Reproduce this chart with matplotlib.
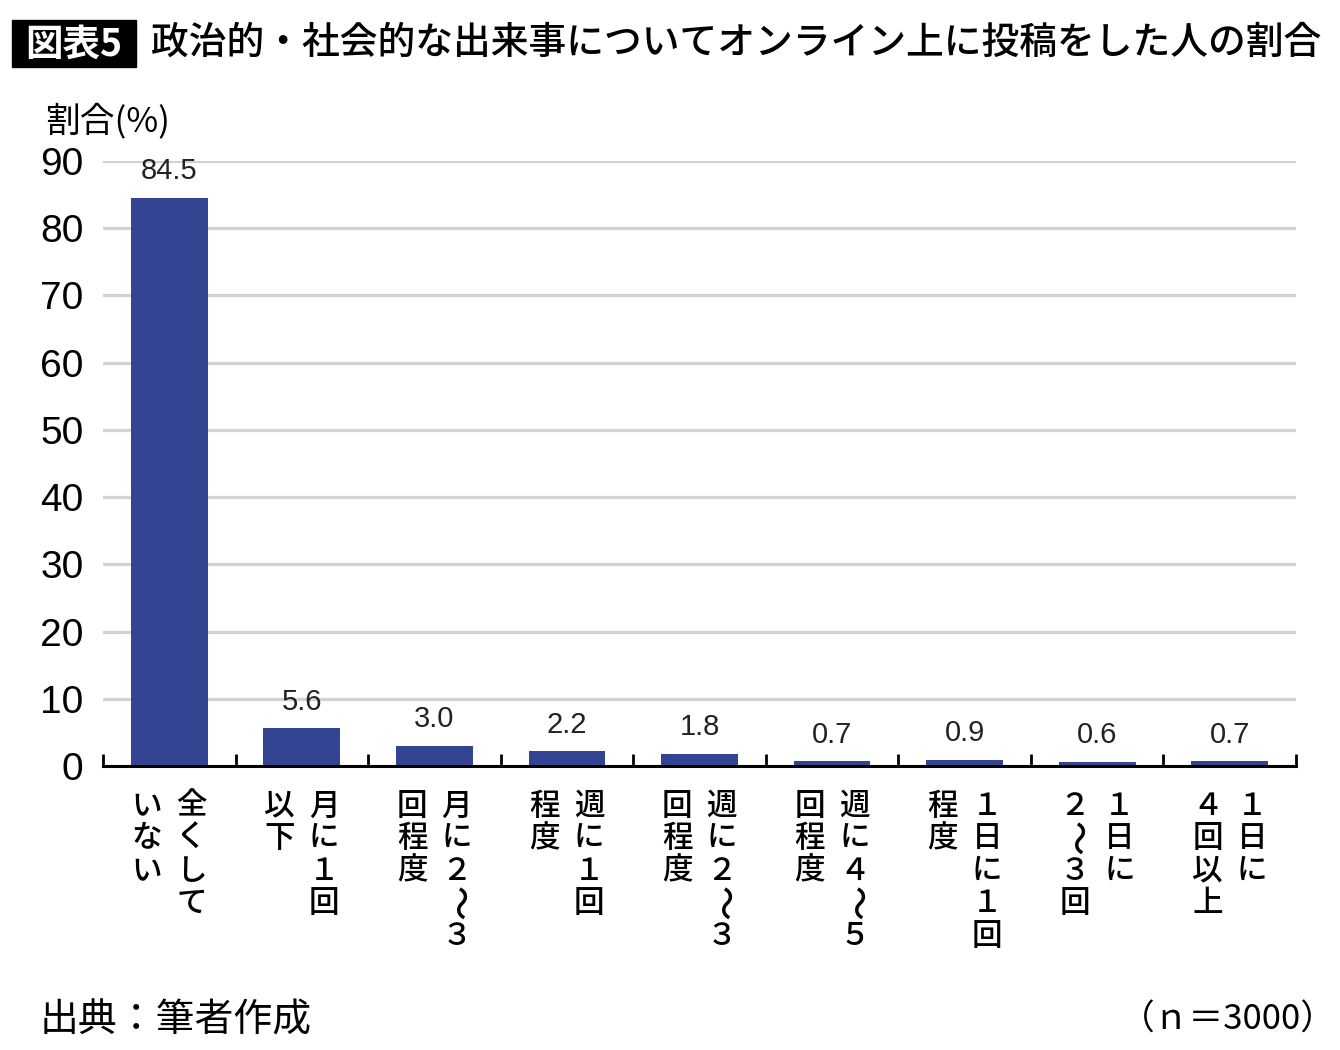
import matplotlib
matplotlib.use('Agg')
import matplotlib.pyplot as plt
from matplotlib.patches import Rectangle

# data
values = [84.5, 5.6, 3.0, 2.2, 1.8, 0.7, 0.9, 0.6, 0.7]
# vertical labels, first column is the right one (read right to left)
label_columns = [
    ['全くして', 'いない'],
    ['月に１回', '以下'],
    ['月に２〜３', '回程度'],
    ['週に１回', '程度'],
    ['週に２〜３', '回程度'],
    ['週に４〜５', '回程度'],
    ['１日に１回', '程度'],
    ['１日に', '２〜３回'],
    ['１日に', '４回以上'],
]
y_ticks = [0, 10, 20, 30, 40, 50, 60, 70, 80, 90]
title_tag = '図表5'
title = '政治的・社会的な出来事についてオンライン上に投稿をした人の割合'
y_label = '割合(%)'
source = '出典：筆者作成'
sample = '（ｎ＝3000）'

JP = ['Noto Sans CJK JP', 'DejaVu Sans']
NUM = ['Liberation Sans', 'DejaVu Sans']
W, H = 1340, 1050

fig = plt.figure(figsize=(W / 100, H / 100), dpi=100)
ax = fig.add_axes([103 / W, 1 - 766 / H, (1296 - 103) / W, (766 - 161) / H])

x = list(range(len(values)))
bars = ax.bar(x, values, width=0.58, color='#334493', zorder=3)
ax.set_xlim(-0.5, len(values) - 0.5)
ax.set_ylim(0, 90)

ax.set_yticks(y_ticks)
ax.set_yticklabels([str(t) for t in y_ticks], fontfamily=NUM, fontsize=28)
ax.tick_params(axis='y', length=0, pad=14)
ax.yaxis.grid(True, color='#d2d2d2', linewidth=2.3)
ax.set_axisbelow(True)
for s in ['left', 'right', 'top']:
    ax.spines[s].set_visible(False)
ax.spines['bottom'].set_linewidth(2.2)
ax.spines['bottom'].set_zorder(4)

# tick marks between the categories, pointing up
ax.set_xticks([i - 0.5 for i in range(len(values) + 1)])
ax.set_xticklabels([])
ax.tick_params(axis='x', direction='in', length=9, width=2)

ax.bar_label(bars, labels=[f'{v:.1f}' for v in values], padding=9,
             fontsize=21, fontfamily=NUM, color='#222222')

# vertical category labels, one glyph at a time
for i, cols in enumerate(label_columns):
    for j, col in enumerate(cols):
        dx = 16 if j == 0 else -16
        for k, ch in enumerate(col):
            wave = ch == '〜'
            ax.annotate(ch, xy=(i, 0), xycoords=ax.get_xaxis_transform(),
                        xytext=(dx, -29 - 23.4 * k), textcoords='offset points',
                        ha='center', va='center', fontsize=25 if wave else 22,
                        family=JP, weight='medium',
                        rotation=-90 if wave else 0)

# title with black tag box
fig.patches.append(Rectangle((12 / W, 1 - 67 / H), 124 / W, 47 / H,
                             transform=fig.transFigure, color='black'))
fig.text(74 / W, 1 - 44 / H, title_tag, color='white', ha='center', va='center',
         fontsize=27, weight='bold', family=JP)
fig.text(151 / W, 1 - 43 / H, title, ha='left', va='center',
         fontsize=27.2, weight='medium', family=JP)

fig.text(45 / W, 1 - 121 / H, y_label, ha='left', va='center', fontsize=25, family=JP)
fig.text(40 / W, 1 - 1020 / H, source, ha='left', va='center', fontsize=28, family=JP)
fig.text(1336 / W, 1 - 1020 / H, sample, ha='right', va='center', fontsize=25, family=JP)

fig.savefig('out.png', dpi=100)
